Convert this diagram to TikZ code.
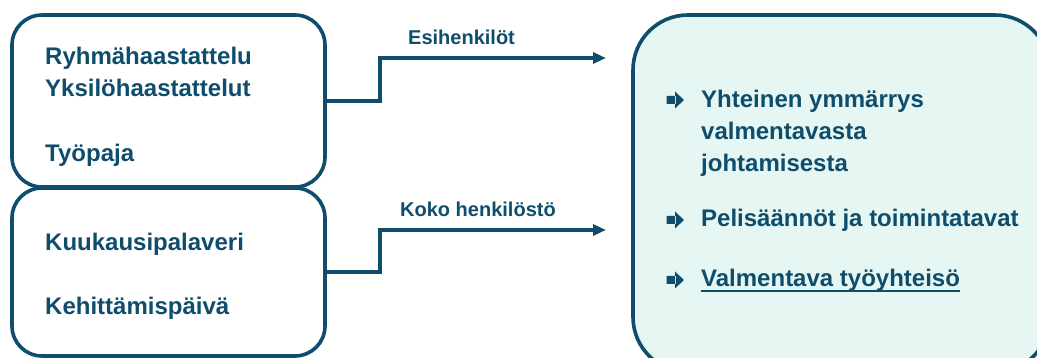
\documentclass[tikz,border=0pt]{standalone}
\usepackage{fontspec}
\setmainfont{Liberation Sans}
\usetikzlibrary{arrows.meta}
\definecolor{navy}{HTML}{0E4D6B}
\definecolor{mint}{HTML}{E6F6F3}
\tikzset{
  frame/.style={draw=navy, line width=3.6pt, rounded corners=30pt},
  item/.style={anchor=base west, inner sep=0pt, text=navy, font=\fontsize{24}{28}\selectfont\bfseries},
  tag/.style={anchor=base west, inner sep=0pt, text=navy, font=\fontsize{20}{24}\selectfont\bfseries},
  conn/.style={draw=navy, line width=3.4pt, -{Triangle[length=13pt,width=11pt]}},
  bullet/.style={fill=navy}
}
% block arrow used as a list marker, centred on (#1,#2)
\newcommand{\arrowbullet}[2]{%
  \fill[bullet] (#1-8.5,#2-4) rectangle (#1+1,#2+4)
    (#1,#2-8.5) -- (#1+9,#2) -- (#1,#2+8.5) -- cycle;}
\begin{document}
\begin{tikzpicture}[x=1pt,y=-1pt]
  \useasboundingbox (0,0) rectangle (1037,358);
  \clip (0,0) rectangle (1037,358);

  % source boxes
  \draw[frame] (12,15) rectangle (325,187);
  \draw[frame] (12,188) rectangle (325,356);
  \coordinate (b1) at (325,101);
  \coordinate (b2) at (325,272);

  % result box, running past the right and bottom edges
  \draw[frame, fill=mint, rounded corners=55pt] (633,15) rectangle (1050,372);

  % texts of the first box
  \node[item] (r1) at (45,65) {Ryhmähaastattelu};
  \node[item] (r2) at (45,97) {Yksilöhaastattelut};
  \node[item] (r3) at (45,162) {Työpaja};

  % texts of the second box
  \node[item] (k1) at (45,251) {Kuukausipalaveri};
  \node[item] (k2) at (45,315) {Kehittämispäivä};

  % connectors
  \coordinate (t1) at (606,58);
  \coordinate (t2) at (606,230);
  \draw[conn] (b1) -- (380,101) |- (t1);
  \draw[conn] (b2) -- (380,272) |- (t2);
  \node[tag] (l1) at (408,45) {Esihenkilöt};
  \node[tag] (l2) at (400,217) {Koko henkilöstö};

  % outcomes
  \arrowbullet{675}{100}
  \node[item] (o1) at (701,108) {Yhteinen ymmärrys};
  \node[item] (o2) at (701,140) {valmentavasta};
  \node[item] (o3) at (701,172) {johtamisesta};
  \arrowbullet{675}{220}
  \node[item] (o4) at (701,227) {Pelisäännöt ja toimintatavat};
  \arrowbullet{675}{280}
  \node[item] (o5) at (701,287) {Valmentava työyhteisö};
  \draw[navy, line width=1.2pt] ([yshift=-4pt]o5.base west) -- ([yshift=-4pt]o5.base east);
\end{tikzpicture}
\end{document}
